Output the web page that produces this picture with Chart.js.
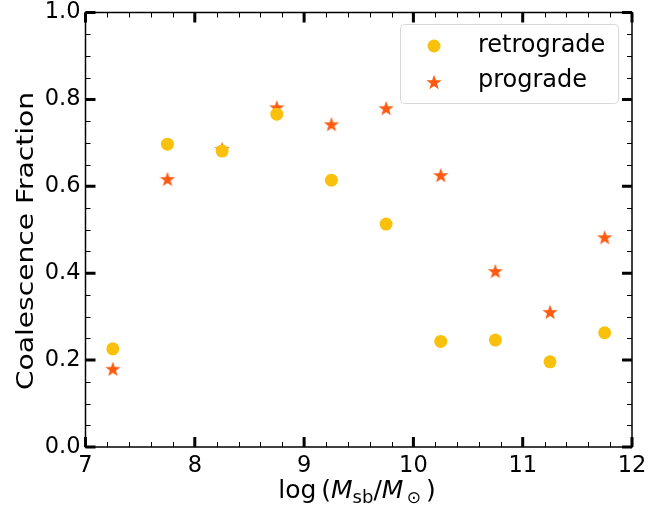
<!DOCTYPE html>
<html>
<head>
<meta charset="utf-8">
<script src="https://cdn.jsdelivr.net/npm/chart.js@4"></script>
<style>
  html, body { margin: 0; padding: 0; background: #fff; }
  #wrap { width: 672px; height: 508px; }
</style>
</head>
<body>
<div id="wrap"><canvas id="chart" width="672" height="508"></canvas></div>
<script>
const massBins = [7.25, 7.75, 8.25, 8.75, 9.25, 9.75, 10.25, 10.75, 11.25, 11.75];
const retrograde = [0.226, 0.697, 0.681, 0.766, 0.614, 0.513, 0.243, 0.246, 0.196, 0.263];
const prograde = [0.180, 0.617, 0.686, 0.782, 0.743, 0.780, 0.626, 0.405, 0.311, 0.483];
const xTicks = [7, 8, 9, 10, 11, 12];
const yTicks = [0.0, 0.2, 0.4, 0.6, 0.8, 1.0];

const retroColor = '#fac10c';
const proColor = '#ff5a10';
const FONT = '"DejaVu Sans", sans-serif';

function makeStar(size, color) {
    const c = document.createElement('canvas');
    c.width = size; c.height = size;
    const g = c.getContext('2d');
    const cx = size / 2, cy = size / 2 + size * 0.05;
    const R = size / 2, r = R * 0.4;
    g.beginPath();
    for (let i = 0; i < 10; i++) {
        const rad = i % 2 === 0 ? R : r;
        const a = -Math.PI / 2 + i * Math.PI / 5;
        const px = cx + rad * Math.cos(a), py = cy + rad * Math.sin(a);
        if (i === 0) g.moveTo(px, py); else g.lineTo(px, py);
    }
    g.closePath();
    g.fillStyle = color;
    g.fill();
    return c;
}
const starImg = makeStar(16, proColor);

function toPoints(xs, ys) {
    return xs.map((x, i) => ({ x: x, y: ys[i] }));
}

// inward ticks on all four sides, plus axis titles and legend
const decor = {
    id: 'decor',
    afterDraw(chart) {
        const ctx = chart.ctx;
        const a = chart.chartArea;
        const xs = chart.scales.x, ys = chart.scales.y;
        ctx.save();
        ctx.strokeStyle = '#000';

        // minor ticks
        ctx.lineWidth = 1;
        ctx.beginPath();
        for (let v = 7; v <= 12.001; v += 0.2) {
            const px = Math.round(xs.getPixelForValue(v)) + 0.5;
            ctx.moveTo(px, a.bottom); ctx.lineTo(px, a.bottom - 5);
            ctx.moveTo(px, a.top); ctx.lineTo(px, a.top + 5);
        }
        for (let v = 0; v <= 1.001; v += 0.05) {
            const py = Math.round(ys.getPixelForValue(v)) + 0.5;
            ctx.moveTo(a.left, py); ctx.lineTo(a.left + 5, py);
            ctx.moveTo(a.right, py); ctx.lineTo(a.right - 5, py);
        }
        ctx.stroke();

        // major ticks
        ctx.lineWidth = 3;
        ctx.beginPath();
        xTicks.forEach(v => {
            const px = xs.getPixelForValue(v);
            ctx.moveTo(px, a.bottom); ctx.lineTo(px, a.bottom - 10);
            ctx.moveTo(px, a.top); ctx.lineTo(px, a.top + 10);
        });
        yTicks.forEach(v => {
            const py = ys.getPixelForValue(v);
            ctx.moveTo(a.left, py); ctx.lineTo(a.left + 10, py);
            ctx.moveTo(a.right, py); ctx.lineTo(a.right - 10, py);
        });
        ctx.stroke();

        // frame
        ctx.lineWidth = 1.5;
        ctx.strokeRect(a.left, a.top, a.right - a.left, a.bottom - a.top);

        // y title, stretched along its length to the reference span
        ctx.fillStyle = '#000';
        ctx.font = '23px ' + FONT;
        ctx.textAlign = 'center';
        ctx.textBaseline = 'alphabetic';
        const yTitle = 'Coalescence Fraction';
        const tw = ctx.measureText(yTitle).width;
        ctx.save();
        ctx.translate(33, 241);
        ctx.rotate(-Math.PI / 2);
        ctx.scale(298 / tw, 1);
        ctx.fillText(yTitle, 0, 0);
        ctx.restore();

        // x title: log (M_sb / M_sun)
        const parts = [
            { t: 'log\u2009(', f: '25px ' + FONT, dy: 0 },
            { t: 'M', f: 'italic 25px ' + FONT, dy: 0 },
            { t: 'sb', f: '18px ' + FONT, dy: 5 },
            { t: '/', f: '25px ' + FONT, dy: 0 },
            { t: 'M', f: 'italic 25px ' + FONT, dy: 0 },
            { t: '\u2009\u2299', f: '17px ' + FONT, dy: 5 },
            { t: '\u2009)', f: '25px ' + FONT, dy: 0 }
        ];
        let total = 0;
        parts.forEach(p => { ctx.font = p.f; p.w = ctx.measureText(p.t).width; total += p.w; });
        let cx = 357 - total / 2;
        ctx.textAlign = 'left';
        parts.forEach(p => {
            ctx.font = p.f;
            ctx.fillText(p.t, cx, 498 + p.dy);
            cx += p.w;
        });

        // legend
        const lx = 400.5, ly = 24.5, lw = 218, lh = 79;
        ctx.beginPath();
        ctx.roundRect(lx, ly, lw, lh, 4);
        ctx.fillStyle = 'rgba(255,255,255,0.8)';
        ctx.fill();
        ctx.strokeStyle = '#d8d8d8';
        ctx.lineWidth = 1;
        ctx.stroke();

        ctx.fillStyle = retroColor;
        ctx.beginPath();
        ctx.arc(434, 46, 6.5, 0, Math.PI * 2);
        ctx.fill();
        ctx.drawImage(starImg, 434 - 8, 82 - 8);

        ctx.fillStyle = '#000';
        ctx.font = '24px ' + FONT;
        ctx.textBaseline = 'middle';
        ctx.fillText('retrograde', 478, 46);
        ctx.fillText('prograde', 478, 81);
        ctx.restore();
    }
};

const ctx = document.getElementById('chart').getContext('2d');
new Chart(ctx, {
    type: 'scatter',
    data: {
        datasets: [
            {
                label: 'retrograde',
                data: toPoints(massBins, retrograde),
                backgroundColor: retroColor,
                borderColor: retroColor,
                pointRadius: 6.5,
                pointHoverRadius: 6.5,
                pointStyle: 'circle',
                borderWidth: 0
            },
            {
                label: 'prograde',
                data: toPoints(massBins, prograde),
                pointStyle: starImg,
                pointRadius: 8
            }
        ]
    },
    options: {
        responsive: false,
        animation: false,
        layout: { padding: { top: 12.5, right: 40, left: 0, bottom: 0 } },
        plugins: {
            legend: { display: false },
            tooltip: { enabled: false }
        },
        scales: {
            x: {
                type: 'linear',
                min: 7, max: 12,
                afterFit: s => { s.height = 61; },
                afterBuildTicks: s => { s.ticks = xTicks.map(v => ({ value: v })); },
                grid: { display: false, drawTicks: false },
                border: { display: false },
                ticks: {
                    color: '#000',
                    padding: 6,
                    font: { family: FONT, size: 22.5 },
                    callback: v => String(v)
                }
            },
            y: {
                type: 'linear',
                min: 0, max: 1,
                afterFit: s => { s.width = 85.5; s.paddingTop = 0; s.paddingBottom = 0; },
                afterBuildTicks: s => { s.ticks = yTicks.map(v => ({ value: v })); },
                grid: { display: false, drawTicks: false },
                border: { display: false },
                ticks: {
                    color: '#000',
                    padding: 5,
                    font: { family: FONT, size: 22.5, lineHeight: 0.8 },
                    callback: v => v.toFixed(1)
                }
            }
        }
    },
    plugins: [decor]
});
</script>
</body>
</html>
